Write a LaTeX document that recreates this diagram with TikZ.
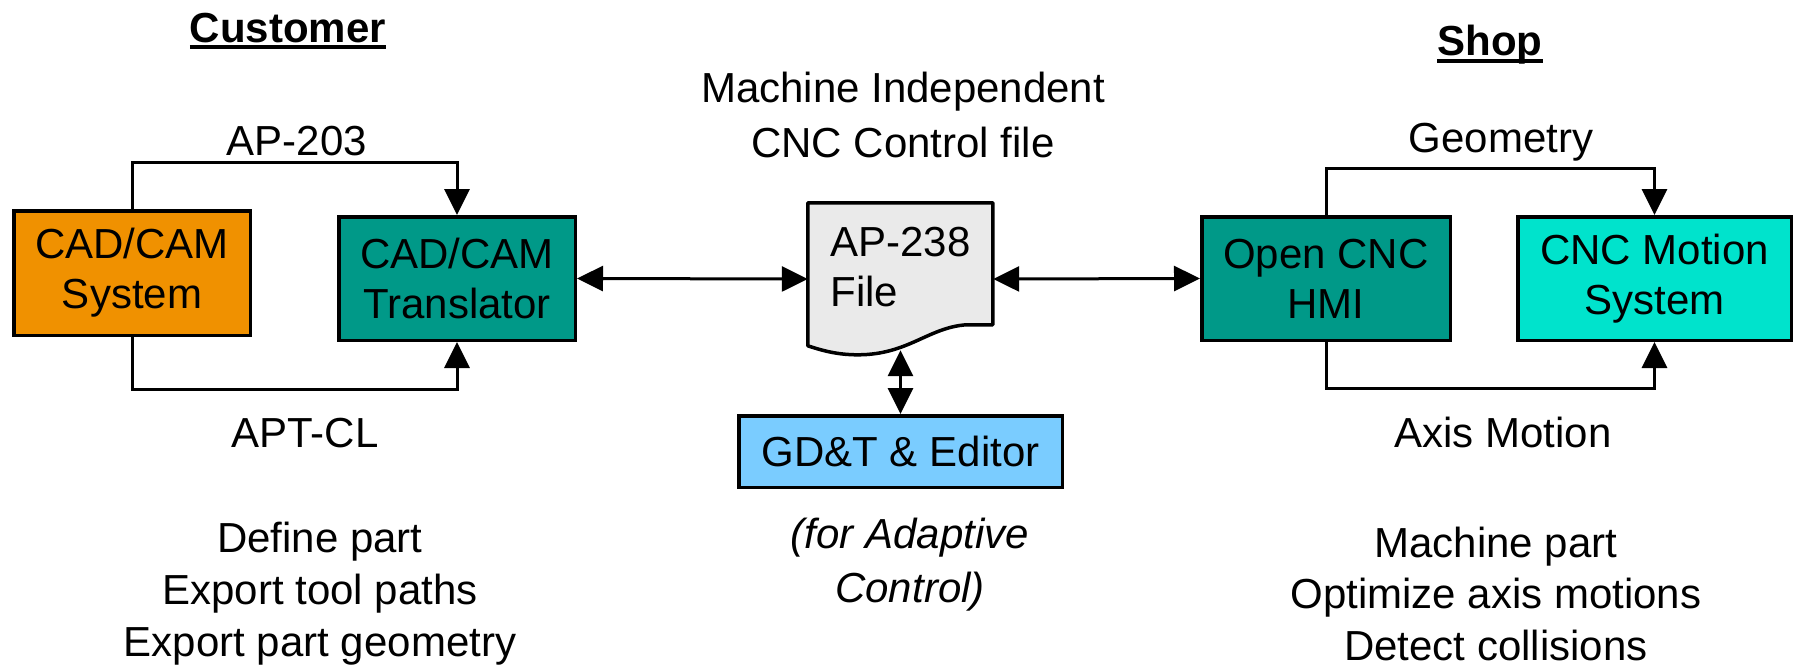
\documentclass[tikz,border=0pt]{standalone}
\usepackage{fontspec}
\setmainfont{Liberation Sans}
\usetikzlibrary{arrows.meta,backgrounds}
\definecolor{cadorange}{RGB}{240,145,0}
\definecolor{teal}{RGB}{0,153,136}
\definecolor{motioncyan}{RGB}{0,227,204}
\definecolor{gdtblue}{RGB}{122,204,255}
\definecolor{filegray}{RGB}{234,234,234}
\tikzset{
  box/.style={draw=black, line width=3.5pt, rectangle, inner sep=0pt, align=center,
    font=\fontsize{42}{50}\selectfont},
  lbl/.style={inner sep=0pt, anchor=base, align=center, font=\fontsize{42}{52}\selectfont},
  ttl/.style={inner sep=0pt, anchor=base, font=\fontsize{42}{50}\selectfont\bfseries},
  conn/.style={line width=3pt, -{Triangle[length=26pt,width=25pt]}},
  dconn/.style={line width=3pt, {Triangle[length=26pt,width=25pt]}-{Triangle[length=26pt,width=25pt]}},
  uline/.style={line width=4pt},
  filebox/.style={draw=black, fill=filegray, line width=3.5pt, line join=round}
}
\begin{document}
\begin{tikzpicture}[x=1pt,y=-1pt]
\path[use as bounding box] (0,0) rectangle (1797,667);

% titles
\node[ttl] (cust) at (288,42) {Customer};
\node[ttl] (shop) at (1490,55) {Shop};
\draw[uline] ([yshift=-5pt]cust.base west) -- ([yshift=-5pt]cust.base east);
\draw[uline] ([yshift=-6pt]shop.base west) -- ([yshift=-6pt]shop.base east);

% boxes
\node[box, fill=cadorange, minimum width=236.5pt, minimum height=124.5pt] (sys) at (132,273) {CAD/CAM\\System};
\node[box, fill=teal, minimum width=236.5pt, minimum height=123.5pt] (trans) at (457,278.5) {CAD/CAM\\Translator};
\node[box, fill=teal, minimum width=248.5pt, minimum height=123.5pt] (hmi) at (1326,278.5) {Open CNC\\HMI};
\node[box, fill=motioncyan, minimum width=273.5pt, minimum height=123.5pt] (motion) at (1654.5,278.5) {CNC Motion\\System};
\node[box, fill=gdtblue, minimum width=323.5pt, minimum height=71.5pt] (gdt) at (900.5,451.5) {GD\&T \& Editor};

% file document
\node[inner sep=0pt, minimum width=185pt, minimum height=152pt, text width=140pt, align=left,
  text depth=74pt, font=\fontsize{42}{50}\selectfont] (file) at (900.5,279) {\mbox{AP-238}\\File};
\begin{scope}[on background layer]
\draw[filebox, shift={(file.north west)}] (0,0) -- (185,0) -- (185,122) -- (158,122)
  .. controls (120,125) and (100,152) .. (50,152)
  .. controls (30,152) and (15,148) .. (0,143) -- cycle;
\end{scope}

% labels (base anchor = baseline of last line)
\node[lbl, font=\fontsize{42}{55}\selectfont] (mi) at (903,157) {Machine Independent\\CNC Control file};
\node[lbl] (ap203) at (297,155) {AP-203};
\node[lbl] (aptcl) at (305,447) {APT-CL};
\node[lbl] (geom) at (1501,152) {Geometry};
\node[lbl] (axis) at (1503,447) {Axis Motion};
\node[lbl] (custtasks) at (320,656) {Define part\\Export tool paths\\Export part geometry};
\node[lbl, font=\fontsize{42}{51.5}\selectfont] (shoptasks) at (1496,660) {Machine part\\Optimize axis motions\\Detect collisions};
\node[lbl, font=\fontsize{42}{54}\selectfont\itshape] (adapt) at (910,602) {(for Adaptive\\Control)};

% connectors
\draw[conn] (sys.north) -- ++(0,-47) -| (trans.north);
\draw[conn] (sys.south) -- ++(0,52) -| (trans.south);
\draw[conn] (hmi.north) -- ++(0,-47) -| (motion.north);
\draw[conn] (hmi.south) -- ++(0,46) -| (motion.south);
\draw[dconn] (trans.east) -- (file.west);
\draw[dconn] (file.east) -- (hmi.west);
\draw[dconn] ([yshift=5pt]file.south) -- (gdt.north);
\end{tikzpicture}
\end{document}
